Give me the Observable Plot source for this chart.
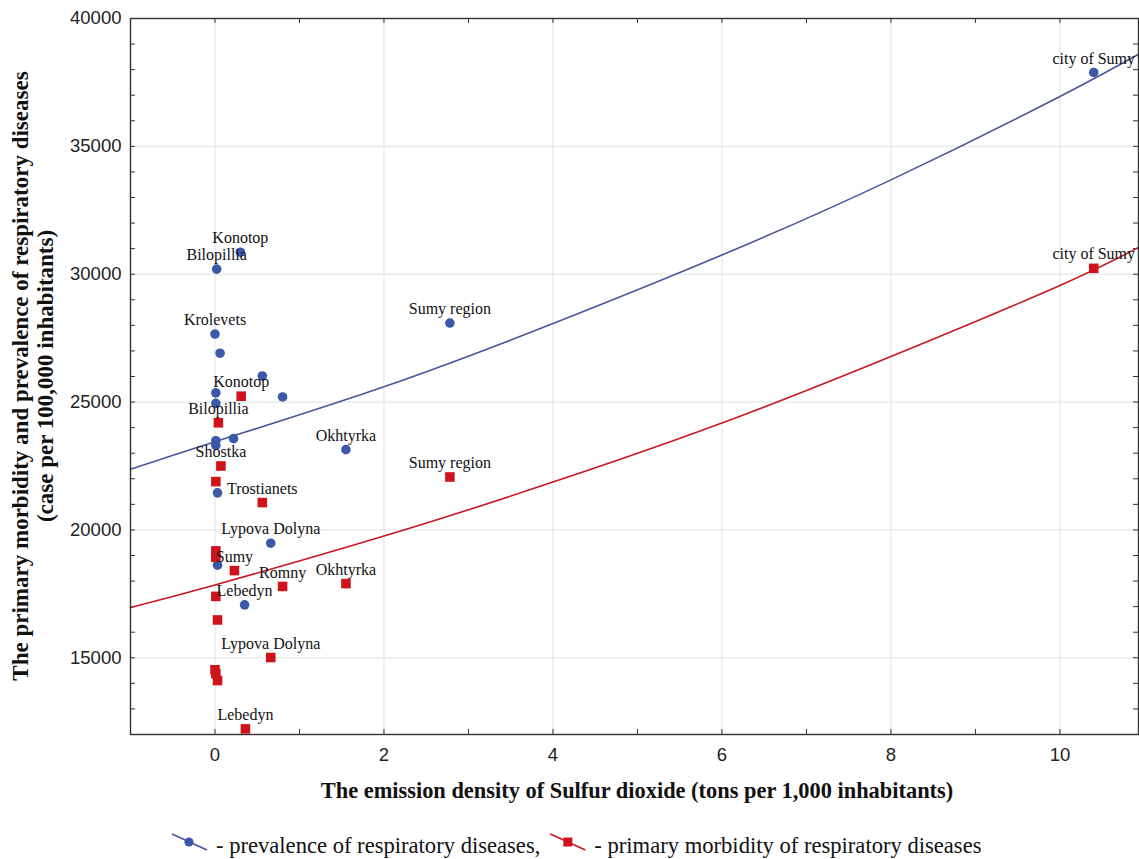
<!DOCTYPE html>
<html><head><meta charset="utf-8">
<script src="https://cdn.jsdelivr.net/npm/d3@7"></script>
<script src="https://cdn.jsdelivr.net/npm/@observablehq/plot@0.6"></script>
<style>
body{margin:0;background:#fff;overflow:hidden;width:1139px;height:859px;position:relative}
#legend{position:absolute;left:0;top:826px;width:1139px;height:33px}
</style></head><body>
<div id="chart"></div>
<div id="legend"></div>
<script>
// prevalence of respiratory diseases (blue circles)
const prevX = [0.30, 0.02, 0.00, 0.06, 0.56, 0.01, 0.01, 0.80, 0.22, 0.01, 0.01, 1.55, 2.78, 0.03, 0.66, 0.03, 0.35, 10.40];
const prevY = [30860, 30200, 27660, 26910, 26020, 25360, 24950, 25200, 23570, 23490, 23310, 23140, 28090, 21450, 19480, 18620, 17070, 37890];
const prevLabel = ["Konotop", "Bilopillia", "Krolevets", "", "", "", "", "", "", "", "", "Okhtyrka", "Sumy region", "", "Lypova Dolyna", "", "Lebedyn", "city of Sumy"];
// primary morbidity of respiratory diseases (red squares)
const morbX = [0.31, 0.04, 0.07, 0.01, 0.56, 0.01, 0.01, 0.23, 0.80, 1.55, 0.01, 0.03, 0.66, 0.00, 0.01, 0.03, 0.36, 2.78, 10.40];
const morbY = [25230, 24190, 22500, 21890, 21070, 19180, 18930, 18410, 17790, 17900, 17400, 16480, 15010, 14530, 14380, 14110, 12220, 22070, 30230];
const morbLabel = ["Konotop", "Bilopillia", "Shostka", "", "Trostianets", "", "", "Sumy", "Romny", "Okhtyrka", "", "", "Lypova Dolyna", "", "", "", "Lebedyn", "Sumy region", "city of Sumy"];
// fitted trend curves
const trendX = [-1, 0, 2, 4, 6, 8, 10, 10.93];
const prevTrend = [22370, 23450, 25600, 28070, 30750, 33690, 36950, 38600];
const morbTrend = [16965, 17850, 19760, 21870, 24180, 26780, 29560, 31050];
// ticks
const xTicks = [0, 2, 4, 6, 8, 10];
const xMinor = [1, 3, 5, 7, 9];
const yTicks = [15000, 20000, 25000, 30000, 35000, 40000];
const yMinor = [13000, 14000, 16000, 17000, 18000, 19000, 21000, 22000, 23000, 24000, 26000, 27000, 28000, 29000, 31000, 32000, 33000, 34000, 36000, 37000, 38000, 39000];

const BLUE = "#3C58A8", BLUE_LINE = "#4A579E", RED = "#D0121B", RED_LINE = "#C8181F";
const W = 1139, H = 810, ML = 130, MR = 1, MT = 18, MB = 76;
const FW = W - ML - MR, FH = H - MT - MB;
const serif = "Liberation Serif";

const prev = prevX.map((x, i) => ({x, y: prevY[i], label: prevLabel[i]}));
const morb = morbX.map((x, i) => ({x, y: morbY[i], label: morbLabel[i]}));
const trendP = trendX.map((x, i) => ({x, y: prevTrend[i]}));
const trendM = trendX.map((x, i) => ({x, y: morbTrend[i]}));
const allX = xTicks.concat(xMinor);
const allY = yTicks.concat(yMinor);

const chart = Plot.plot({
  width: W, height: H,
  marginLeft: ML, marginRight: MR, marginTop: MT, marginBottom: MB,
  style: {fontFamily: "Liberation Sans", fontSize: "18.5px", color: "#222", background: "#fff"},
  x: {domain: [-1, 10.93]},
  y: {domain: [12000, 40000]},
  marks: [
    Plot.gridX(xTicks, {stroke: "#e2e2e2", strokeOpacity: 1}),
    Plot.gridY(yTicks, {stroke: "#e2e2e2", strokeOpacity: 1}),
    Plot.ruleX(allX, {x: d => d, insetTop: FH - 5, stroke: "#333"}),
    Plot.ruleX(allX, {x: d => d, insetBottom: FH - 5, stroke: "#333"}),
    Plot.ruleY(allY, {y: d => d, insetRight: FW - 5, stroke: "#333"}),
    Plot.ruleY(allY, {y: d => d, insetLeft: FW - 5, stroke: "#333"}),
    Plot.line(trendP, {x: "x", y: "y", curve: "natural", stroke: BLUE_LINE, strokeWidth: 1.6}),
    Plot.line(trendM, {x: "x", y: "y", curve: "natural", stroke: RED_LINE, strokeWidth: 1.6}),
    Plot.dot(prev, {x: "x", y: "y", r: 4.8, fill: BLUE, symbol: "circle"}),
    Plot.dot(morb, {x: "x", y: "y", r: 5.4, fill: RED, symbol: "square"}),
    Plot.text(prev.filter(d => d.label), {x: "x", y: "y", text: "label", dy: -14, fontFamily: serif, fontSize: 16, fill: "#111"}),
    Plot.text(morb.filter(d => d.label), {x: "x", y: "y", text: "label", dy: -14, fontFamily: serif, fontSize: 16, fill: "#111"}),
    Plot.frame({stroke: "#333", strokeWidth: 1.4}),
    Plot.axisX({ticks: xTicks, tickSize: 0, tickPadding: 13, label: null, tickFormat: d => String(d)}),
    Plot.axisY({ticks: yTicks, tickSize: 0, tickPadding: 9, label: null, tickFormat: d => String(d)})
  ]
});
document.getElementById("chart").appendChild(chart);

const svg = d3.select(chart);
svg.append("text")
  .attr("x", 637).attr("y", 798)
  .attr("text-anchor", "middle")
  .attr("font-family", serif).attr("font-weight", "bold").attr("font-size", 22.4).attr("fill", "#111")
  .text("The emission density of Sulfur dioxide (tons per 1,000 inhabitants)");
svg.append("text")
  .attr("transform", `translate(28,${MT + FH / 2}) rotate(-90)`)
  .attr("text-anchor", "middle")
  .attr("font-family", serif).attr("font-weight", "bold").attr("font-size", 23).attr("fill", "#111")
  .text("The primary morbidity and prevalence of respiratory diseases");
svg.append("text")
  .attr("transform", `translate(53,${MT + FH / 2}) rotate(-90)`)
  .attr("text-anchor", "middle")
  .attr("font-family", serif).attr("font-weight", "bold").attr("font-size", 23).attr("fill", "#111")
  .text("(case per 100,000 inhabitants)");

// legend (below the chart)
const legendItems = [
  {color: BLUE, line: BLUE_LINE, shape: "circle", text: "- prevalence of respiratory diseases,"},
  {color: RED, line: RED_LINE, shape: "square", text: "- primary morbidity of respiratory diseases"}
];
const ls = d3.select("#legend").append("svg").attr("width", 1139).attr("height", 33);
let cx = 172;
legendItems.forEach((it, i) => {
  const g = ls.append("g").attr("transform", `translate(${cx},0)`);
  g.append("line").attr("x1", 0).attr("y1", 8).attr("x2", 35).attr("y2", 24).attr("stroke", it.line).attr("stroke-width", 1.6);
  if (it.shape === "circle") g.append("circle").attr("cx", 17).attr("cy", 16).attr("r", 4.6).attr("fill", it.color);
  else g.append("rect").attr("x", 13).attr("y", 11.5).attr("width", 9).attr("height", 9).attr("fill", it.color);
  const t = g.append("text").attr("x", 44).attr("y", 27)
    .attr("font-family", serif).attr("font-size", 22.6).attr("fill", "#111").text(it.text);
  cx += 44 + t.node().getComputedTextLength() + 10;
});
</script>
</body></html>
